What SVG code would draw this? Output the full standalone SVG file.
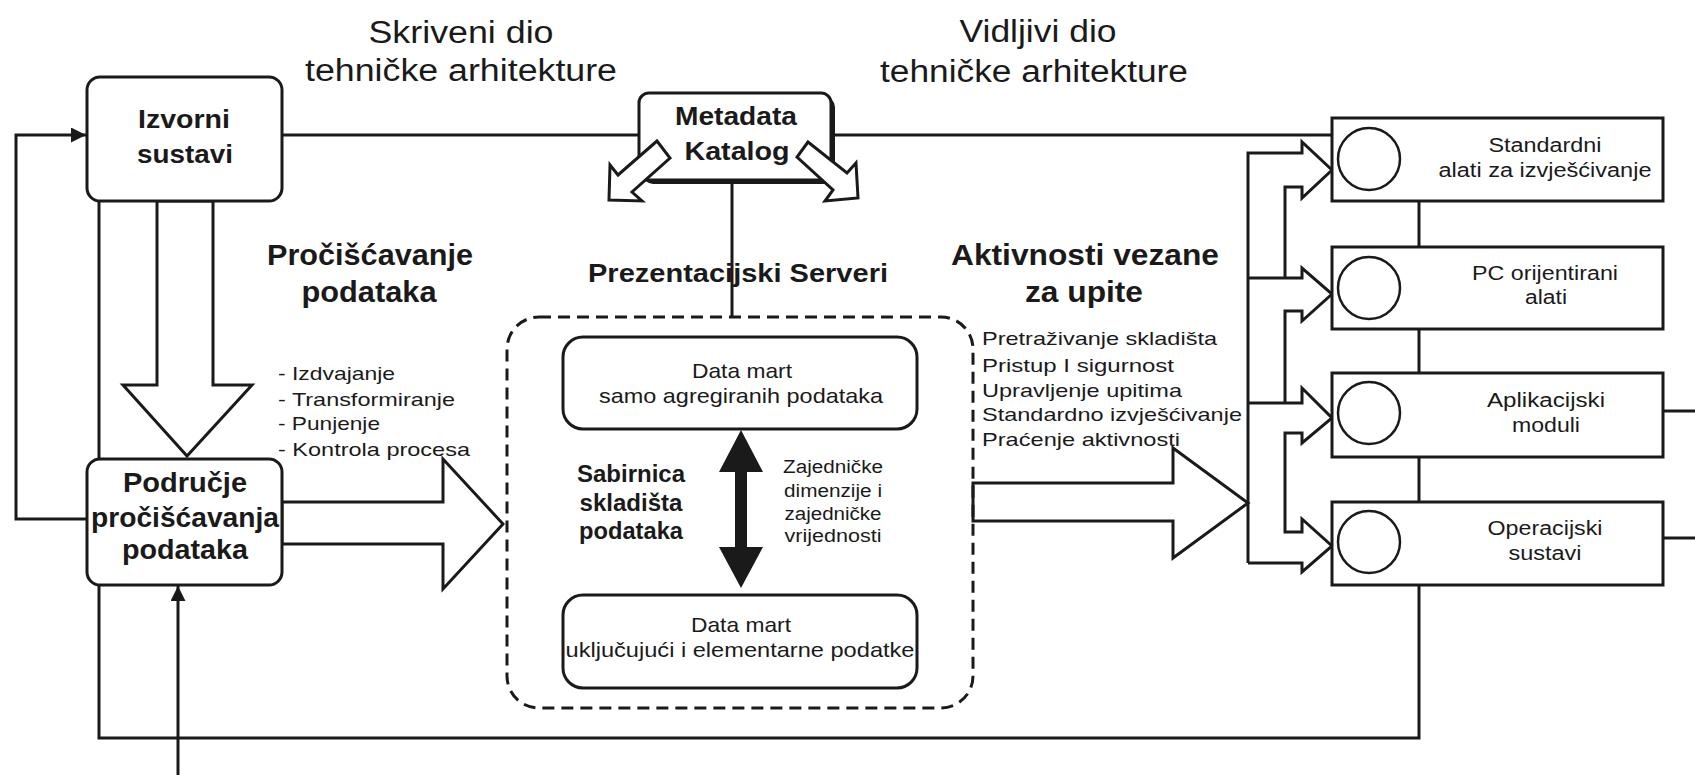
<svg xmlns="http://www.w3.org/2000/svg" width="1695" height="775" viewBox="0 0 1695 775">
<style>
text{font-family:"Liberation Sans",Arial,sans-serif;fill:#1a1a1a}
.t{font-size:31px}
.b{font-weight:bold}
.m{text-anchor:middle}
.ln{fill:none;stroke:#1a1a1a;stroke-width:3}
.box{fill:#fff;stroke:#1a1a1a;stroke-width:3}
.hol{fill:#fff;stroke:#1a1a1a;stroke-width:3;stroke-linejoin:miter}
.circ{fill:#fff;stroke:#1a1a1a;stroke-width:2.5}
.s19{font-size:19px}
.s20{font-size:20px}
.s21{font-size:21px}
</style>
<defs>
<marker id="ah" viewBox="0 0 10 10" refX="10" refY="5" markerWidth="5" markerHeight="5" markerUnits="strokeWidth" orient="auto">
<path d="M0,0 L10,5 L0,10 z" fill="#1a1a1a"/>
</marker>
</defs>
<rect width="1695" height="775" fill="#fff"/>

<!-- titles -->
<text class="t m" x="461" y="43" textLength="185" lengthAdjust="spacingAndGlyphs">Skriveni dio</text>
<text class="t m" x="461" y="81" textLength="312" lengthAdjust="spacingAndGlyphs">tehničke arhitekture</text>
<text class="t m" x="1038" y="42" textLength="157" lengthAdjust="spacingAndGlyphs">Vidljivi dio</text>
<text class="t m" x="1034" y="82" textLength="308" lengthAdjust="spacingAndGlyphs">tehničke arhitekture</text>

<g id="connectors">
<line class="ln" x1="282" y1="135" x2="639" y2="135"/>
<line class="ln" x1="835" y1="135" x2="1332" y2="135"/>
<line class="ln" x1="732" y1="183" x2="732" y2="317"/>
<polyline class="ln" points="99,200 99,738 1419,738 1419,585"/>
<line class="ln" x1="1419" y1="201" x2="1419" y2="247"/>
<line class="ln" x1="1419" y1="329" x2="1419" y2="373"/>
<line class="ln" x1="1419" y1="457" x2="1419" y2="502"/>
<line class="ln" x1="1663" y1="411" x2="1695" y2="411"/>
<line class="ln" x1="1663" y1="538" x2="1695" y2="538"/>
<polyline class="ln" points="87,519 16,519 16,135 86,135" marker-end="url(#ah)"/>
<line class="ln" x1="178" y1="775" x2="178" y2="586" marker-end="url(#ah)"/>
<!-- hollow arrows -->
<polygon class="hol" points="157,201 157,385 123,385 187,456 252,385 213,385 213,201"/>
<polygon class="hol" points="282,502 443,502 443,459 503,524 443,589 443,544 282,544"/>
<polygon class="hol" points="973,483 1173,483 1173,448 1248,503 1173,558 1173,521 973,521"/>
<!-- fan-out to tools -->
<path class="ln" d="M1248,563 V153 H1302 V142 L1332,170 L1302,198 V187 H1285 V278"/>
<path class="ln" d="M1248,278 H1302 V268 L1332,294 L1302,321 V311 H1285 V403"/>
<path class="ln" d="M1248,403 H1302 V388 L1332,418 L1302,443 V433 H1285 V532 H1302 V519 L1332,546 L1302,572 V563 H1248"/>
</g>

<g id="izvorni">
<rect class="box" x="87" y="77" width="195" height="124" rx="13"/>
<text class="b m" x="184" y="128" font-size="26" textLength="92" lengthAdjust="spacingAndGlyphs">Izvorni</text>
<text class="b m" x="185" y="163" font-size="26" textLength="96" lengthAdjust="spacingAndGlyphs">sustavi</text>
</g>

<g id="podrucje">
<rect class="box" x="87" y="459" width="195" height="126" rx="13"/>
<text class="b m" x="185" y="492" font-size="28" textLength="124" lengthAdjust="spacingAndGlyphs">Područje</text>
<text class="b m" x="185" y="527" font-size="28" textLength="188" lengthAdjust="spacingAndGlyphs">pročišćavanja</text>
<text class="b m" x="185" y="559" font-size="28" textLength="126" lengthAdjust="spacingAndGlyphs">podataka</text>
</g>

<g id="metadata">
<rect x="643" y="97" width="192" height="87" rx="10" fill="#1a1a1a"/>
<rect class="box" x="639" y="93" width="192" height="87" rx="10"/>
<text class="b m" x="736" y="125" font-size="25" textLength="122" lengthAdjust="spacingAndGlyphs">Metadata</text>
<text class="b m" x="737" y="160" font-size="25" textLength="105" lengthAdjust="spacingAndGlyphs">Katalog</text>
<polygon class="hol" points="657,141 618,175 610,165 609,200 642,201 632,192 670,158"/>
<polygon class="hol" points="808,142 847,173 856,163 858,198 825,201 833,190 797,157"/>
</g>

<g id="ciscenje-label">
<text class="b m" x="370" y="265" font-size="29" textLength="206" lengthAdjust="spacingAndGlyphs">Pročišćavanje</text>
<text class="b m" x="369" y="302" font-size="29" textLength="135" lengthAdjust="spacingAndGlyphs">podataka</text>
<text class="s19" x="278" y="380" textLength="117" lengthAdjust="spacingAndGlyphs">- Izdvajanje</text>
<text class="s19" x="278" y="406" textLength="177" lengthAdjust="spacingAndGlyphs">- Transformiranje</text>
<text class="s19" x="278" y="430" textLength="102" lengthAdjust="spacingAndGlyphs">- Punjenje</text>
<text class="s19" x="278" y="456" textLength="192" lengthAdjust="spacingAndGlyphs">- Kontrola procesa</text>
</g>

<g id="prezentacijski">
<text class="b m" x="738" y="282" font-size="25" textLength="300" lengthAdjust="spacingAndGlyphs">Prezentacijski Serveri</text>
<rect x="507" y="317" width="466" height="391" rx="32" fill="none" stroke="#1a1a1a" stroke-width="3" stroke-dasharray="12 7"/>
</g>

<g id="datamart-agg">
<rect class="box" x="563" y="337" width="354" height="92" rx="20"/>
<text class="s21 m" x="742" y="378" textLength="100" lengthAdjust="spacingAndGlyphs">Data mart</text>
<text class="s21 m" x="741" y="403" textLength="284" lengthAdjust="spacingAndGlyphs">samo agregiranih podataka</text>
</g>

<g id="datamart-elem">
<rect class="box" x="563" y="595" width="354" height="93" rx="20"/>
<text class="s21 m" x="741" y="632" textLength="100" lengthAdjust="spacingAndGlyphs">Data mart</text>
<text class="s21 m" x="740" y="657" textLength="349" lengthAdjust="spacingAndGlyphs">uključujući i elementarne podatke</text>
</g>

<g id="sabirnica">
<polygon points="741,430 763,472 747,472 747,547 763,547 741,588 719,547 735,547 735,472 719,472" fill="#1a1a1a"/>
<text class="b m" x="631" y="482" font-size="23" textLength="108" lengthAdjust="spacingAndGlyphs">Sabirnica</text>
<text class="b m" x="631" y="511" font-size="23" textLength="103" lengthAdjust="spacingAndGlyphs">skladišta</text>
<text class="b m" x="631" y="539" font-size="23" textLength="104" lengthAdjust="spacingAndGlyphs">podataka</text>
<text class="m" x="833" y="473" font-size="18" textLength="100" lengthAdjust="spacingAndGlyphs">Zajedničke</text>
<text class="m" x="833" y="497" font-size="18" textLength="98" lengthAdjust="spacingAndGlyphs">dimenzije i</text>
<text class="m" x="833" y="520" font-size="18" textLength="97" lengthAdjust="spacingAndGlyphs">zajedničke</text>
<text class="m" x="833" y="542" font-size="18" textLength="97" lengthAdjust="spacingAndGlyphs">vrijednosti</text>
</g>

<g id="aktivnosti">
<text class="b m" x="1085" y="265" font-size="29" textLength="268" lengthAdjust="spacingAndGlyphs">Aktivnosti  vezane</text>
<text class="b m" x="1084" y="302" font-size="29" textLength="118" lengthAdjust="spacingAndGlyphs">za upite</text>
<text class="s19" x="982" y="345" textLength="235" lengthAdjust="spacingAndGlyphs">Pretraživanje skladišta</text>
<text class="s19" x="982" y="372" textLength="192" lengthAdjust="spacingAndGlyphs">Pristup I sigurnost</text>
<text class="s19" x="982" y="397" textLength="200" lengthAdjust="spacingAndGlyphs">Upravljenje upitima</text>
<text class="s19" x="982" y="421" textLength="260" lengthAdjust="spacingAndGlyphs">Standardno izvješćivanje</text>
<text class="s19" x="982" y="446" textLength="198" lengthAdjust="spacingAndGlyphs">Praćenje aktivnosti</text>
</g>

<g id="standardni">
<rect class="box" x="1332" y="118" width="331" height="83"/>
<circle class="circ" cx="1369" cy="159" r="31"/>
<text class="s20 m" x="1545" y="152" textLength="113" lengthAdjust="spacingAndGlyphs">Standardni</text>
<text class="s20 m" x="1545" y="177" textLength="213" lengthAdjust="spacingAndGlyphs">alati za izvješćivanje</text>
</g>

<g id="pc">
<rect class="box" x="1332" y="247" width="331" height="82"/>
<circle class="circ" cx="1369" cy="288" r="31"/>
<text class="s20 m" x="1545" y="280" textLength="146" lengthAdjust="spacingAndGlyphs">PC orijentirani</text>
<text class="s20 m" x="1546" y="304" textLength="42" lengthAdjust="spacingAndGlyphs">alati</text>
</g>

<g id="aplikacijski">
<rect class="box" x="1332" y="373" width="331" height="84"/>
<circle class="circ" cx="1369" cy="413" r="31"/>
<text class="s20 m" x="1546" y="407" textLength="118" lengthAdjust="spacingAndGlyphs">Aplikacijski</text>
<text class="s20 m" x="1546" y="432" textLength="68" lengthAdjust="spacingAndGlyphs">moduli</text>
</g>

<g id="operacijski">
<rect class="box" x="1332" y="502" width="331" height="83"/>
<circle class="circ" cx="1369" cy="542" r="31"/>
<text class="s20 m" x="1545" y="535" textLength="115" lengthAdjust="spacingAndGlyphs">Operacijski</text>
<text class="s20 m" x="1545" y="560" textLength="73" lengthAdjust="spacingAndGlyphs">sustavi</text>
</g>
</svg>
